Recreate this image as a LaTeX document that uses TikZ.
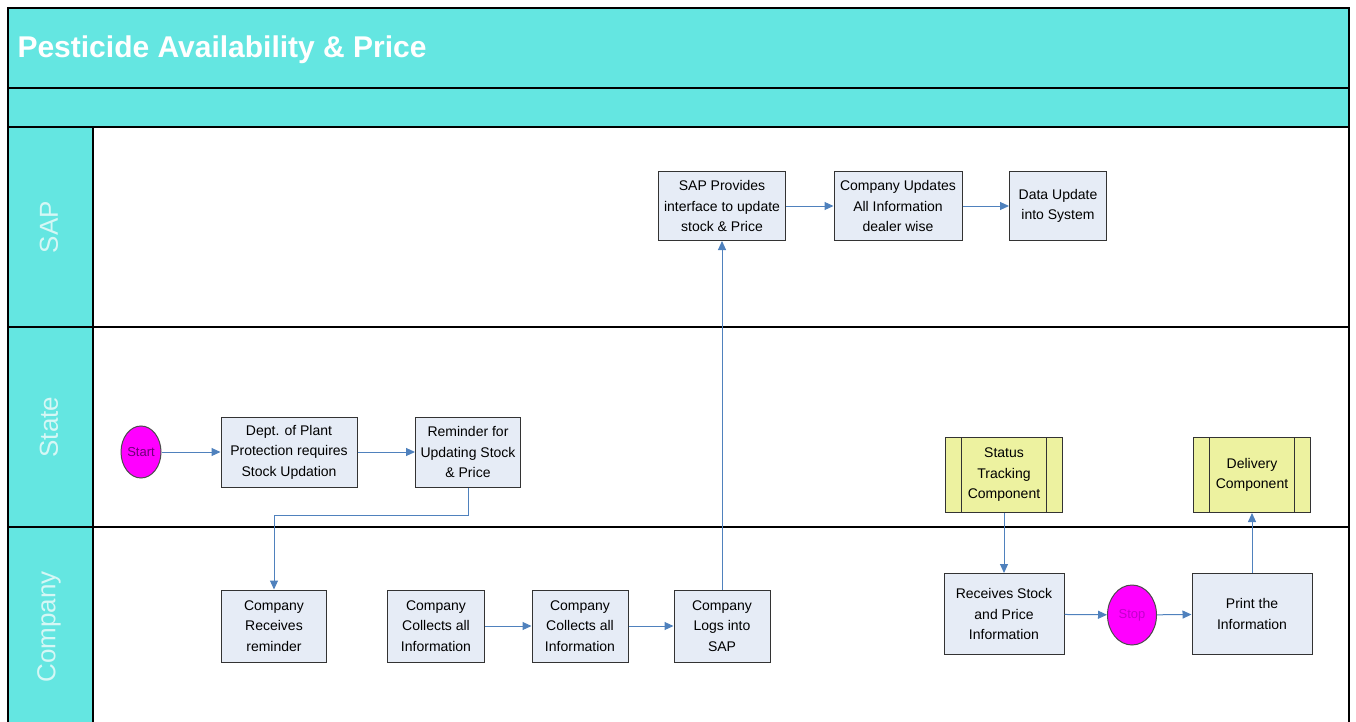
\documentclass[tikz,border=0pt]{standalone}
\usepackage{fontspec}
\setmainfont{Liberation Sans}
\usetikzlibrary{arrows.meta,shapes.geometric}

\definecolor{laneCyan}{RGB}{100,230,225}
\definecolor{laneText}{RGB}{214,247,245}
\definecolor{boxFill}{RGB}{230,236,246}
\definecolor{compFill}{RGB}{237,242,160}
\definecolor{flowBlue}{RGB}{79,129,189}
\definecolor{termFill}{RGB}{255,0,255}
\definecolor{startText}{RGB}{110,0,120}
\definecolor{stopText}{RGB}{195,0,205}

\newcommand{\boxfont}{\fontsize{14}{20.5}\selectfont}

\tikzset{
	procbox/.style={rectangle, draw=black!80, line width=1pt, fill=boxFill, align=center, font=\boxfont, inner sep=1pt},
	compbox/.style={rectangle, draw=black!80, line width=1pt, fill=compFill, align=center, font=\boxfont, inner sep=1pt,
		path picture={
			\draw[black!80, line width=1pt] ([xshift=16pt]path picture bounding box.north west) -- ([xshift=16pt]path picture bounding box.south west);
			\draw[black!80, line width=1pt] ([xshift=-16pt]path picture bounding box.north east) -- ([xshift=-16pt]path picture bounding box.south east);
		}},
	termnode/.style={ellipse, draw=black!70, line width=1pt, fill=termFill, inner sep=0pt, font=\fontsize{13}{15}\selectfont},
	flowArrow/.style={draw=flowBlue, line width=1pt, -{Triangle[length=9pt,width=8pt]}},
	laneLabel/.style={rotate=90, text=laneText, font=\fontsize{26}{30}\selectfont}
}

\begin{document}
\begin{tikzpicture}[x=1pt, y=-1pt]
		
		\useasboundingbox (0,0) rectangle (1356,722);
		
		%Pool frame and title bands
		\fill[laneCyan] (8,8) rectangle (1349,127);
		\fill[laneCyan] (8,127) rectangle (93,730);
		\draw[line width=1.5pt] (8,730) -- (8,8) -- (1349,8) -- (1349,730);
		\draw[line width=1.5pt] (8,88) -- (1349,88);
		\draw[line width=1.5pt] (8,127) -- (1349,127);
		\draw[line width=1.5pt] (8,327) -- (1349,327);
		\draw[line width=1.5pt] (8,527) -- (1349,527);
		\draw[line width=1.5pt] (93,127) -- (93,730);
		
		\node (poolTitle) at (14,50) [anchor=west, text=white, font=\fontsize{30}{34}\selectfont\bfseries]{Pesticide Availability \& Price};
		
		%Lane labels
		\node (sapLane) at (49,227) [laneLabel]{SAP};
		\node (stateLane) at (49,427) [laneLabel]{State};
		\node (companyLane) at (49,627) [laneLabel]{Company};
		
		%SAP lane
		\node (sapProvides) at (722,206) [procbox, minimum width=127pt, minimum height=69pt]{SAP Provides\\interface to update\\stock \& Price};
		\node (companyUpdates) at (898,206) [procbox, minimum width=128pt, minimum height=69pt]{Company Updates\\All Information\\dealer wise};
		\node (dataUpdate) at (1058,206) [procbox, minimum width=97pt, minimum height=69pt]{Data Update\\into System};
		
		%State lane
		\node (start) at (141,452) [termnode, minimum width=40pt, minimum height=52pt, text=startText]{Start};
		\node (deptPlant) at (289,452) [procbox, minimum width=136pt, minimum height=70pt]{Dept. of Plant\\Protection requires\\Stock Updation};
		\node (reminder) at (468,452) [procbox, minimum width=105pt, minimum height=70pt]{Reminder for\\Updating Stock\\\& Price};
		\node (statusTracking) at (1004,475) [compbox, minimum width=117pt, minimum height=75pt]{Status\\Tracking\\Component};
		\node (delivery) at (1252,475) [compbox, minimum width=117pt, minimum height=75pt]{Delivery\\Component};
		
		%Company lane
		\node (receivesReminder) at (274,626) [procbox, minimum width=105pt, minimum height=72pt]{Company\\Receives\\reminder};
		\node (collectsFirst) at (436,626) [procbox, minimum width=97pt, minimum height=72pt]{Company\\Collects all\\Information};
		\node (collectsSecond) at (580,626) [procbox, minimum width=96pt, minimum height=72pt]{Company\\Collects all\\Information};
		\node (logsInto) at (722,626) [procbox, minimum width=96pt, minimum height=72pt]{Company\\Logs into\\SAP};
		\node (receivesStock) at (1004,614) [procbox, minimum width=120pt, minimum height=81pt]{Receives Stock\\and Price\\Information};
		\node (stop) at (1132,615) [termnode, minimum width=49pt, minimum height=60pt, text=stopText]{Stop};
		\node (printInfo) at (1252,614) [procbox, minimum width=120pt, minimum height=81pt]{Print the\\Information};
		
		%Connectors
		\draw[flowArrow] (start) -- (deptPlant);
		\draw[flowArrow] (deptPlant) -- (reminder);
		\draw[flowArrow] (reminder.south) -- ++(0,28) -| (receivesReminder.north);
		\draw[flowArrow] (collectsFirst) -- (collectsSecond);
		\draw[flowArrow] (collectsSecond) -- (logsInto);
		\draw[flowArrow] (logsInto.north) -- (sapProvides.south);
		\draw[flowArrow] (sapProvides) -- (companyUpdates);
		\draw[flowArrow] (companyUpdates) -- (dataUpdate);
		\draw[flowArrow] (statusTracking.south) -- (receivesStock.north);
		\draw[flowArrow] (receivesStock) -- (stop);
		\draw[flowArrow] (stop) -- (printInfo);
		\draw[flowArrow] (printInfo.north) -- (delivery.south);
		
\end{tikzpicture}
\end{document}
